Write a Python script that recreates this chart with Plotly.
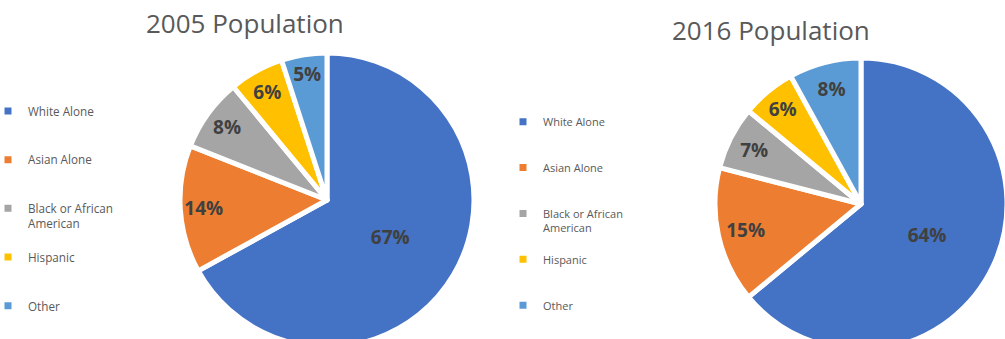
import plotly.graph_objects as go

categories = ["White Alone", "Asian Alone", "Black or African American", "Hispanic", "Other"]
pop_2005 = [67, 14, 8, 6, 5]
pop_2016 = [64, 15, 7, 6, 8]
titles = ["2005 Population", "2016 Population"]
colors = ["#4472C4", "#ED7D31", "#A5A5A5", "#FFC000", "#5B9BD5"]

W, H = 1040, 370  # canvas slightly larger than window so pies are cropped like reference


def legend_label(c, suffix, last):
    # wrap long names and pad lines to spread legend entries
    if c == "Black or African American":
        text = "Black or African<br>American"
    else:
        text = c
    pad = "" if last else ("<br> " if "<br>" in text else "<br> <br> ")
    return text + pad + suffix


def px_x(x):
    return x / W


def px_y(y):
    return 1 - y / H


fig = go.Figure()
# (values, (centre x, centre y, radius) in px, legend id, label suffix, rim-label slices, ring hole)
specs = [
    (pop_2005, (327, 200, 147), "legend", "", {1, 2, 3, 4}, 0.68),
    (pop_2016, (861, 204, 146), "legend2", "\u200b", {1, 2, 3, 4}, 0.62),
]
for vals, (cx, cy, r), leg, suffix, rim, hole in specs:
    n = len(vals)
    labels = [legend_label(c, suffix, i == n - 1) for i, c in enumerate(categories)]
    dom = dict(x=[px_x(cx - r), px_x(cx + r)], y=[px_y(cy + r), px_y(cy - r)])
    tfont = dict(family="Open Sans", size=19, color="#404040", weight="bold")
    pct = "%{percent:.0%}"
    # main pie: slices + labels placed by plotly's default inside layout
    fig.add_trace(go.Pie(
        labels=labels,
        values=vals,
        sort=False,
        direction="clockwise",
        rotation=0,
        marker=dict(colors=colors, line=dict(color="white", width=5)),
        texttemplate=["" if i in rim else pct for i in range(n)],
        textposition="inside",
        insidetextorientation="horizontal",
        textfont=tfont,
        domain=dom,
        legend=leg,
        hoverinfo="label+percent",
    ))
    # transparent ring overlay: places the remaining labels near the rim
    fig.add_trace(go.Pie(
        labels=labels,
        values=vals,
        sort=False,
        direction="clockwise",
        rotation=0,
        hole=hole,
        marker=dict(colors=["rgba(0,0,0,0)"] * n, line=dict(width=0)),
        texttemplate=[pct if i in rim else "" for i in range(n)],
        textposition="inside",
        insidetextorientation="horizontal",
        textfont=tfont,
        domain=dom,
        showlegend=False,
        hoverinfo="skip",
    ))

fig.update_layout(
    width=W, height=H,
    margin=dict(l=0, r=0, t=0, b=0, autoexpand=False),
    paper_bgcolor="white",
    plot_bgcolor="white",
    legend=dict(x=px_x(-12), y=px_y(97), xanchor="left", yanchor="top",
                font=dict(family="Open Sans", size=11.7, color="#595959"),
                valign="top", bgcolor="rgba(0,0,0,0)"),
    legend2=dict(x=px_x(503), y=px_y(108), xanchor="left", yanchor="top",
                 font=dict(family="Open Sans", size=11, color="#595959"),
                 valign="top", bgcolor="rgba(0,0,0,0)"),
    annotations=[
        dict(text=titles[0], x=px_x(245), y=px_y(23), xref="paper", yref="paper",
             showarrow=False, xanchor="center", yanchor="middle",
             font=dict(family="Open Sans", size=26, color="#595959")),
        dict(text=titles[1], x=px_x(771), y=px_y(30), xref="paper", yref="paper",
             showarrow=False, xanchor="center", yanchor="middle",
             font=dict(family="Open Sans", size=26, color="#595959")),
    ],
)

fig.write_html(
    "out.html",
    config={"displayModeBar": False},
    post_script="document.body.style.margin='0';document.body.style.overflow='hidden';",
)
